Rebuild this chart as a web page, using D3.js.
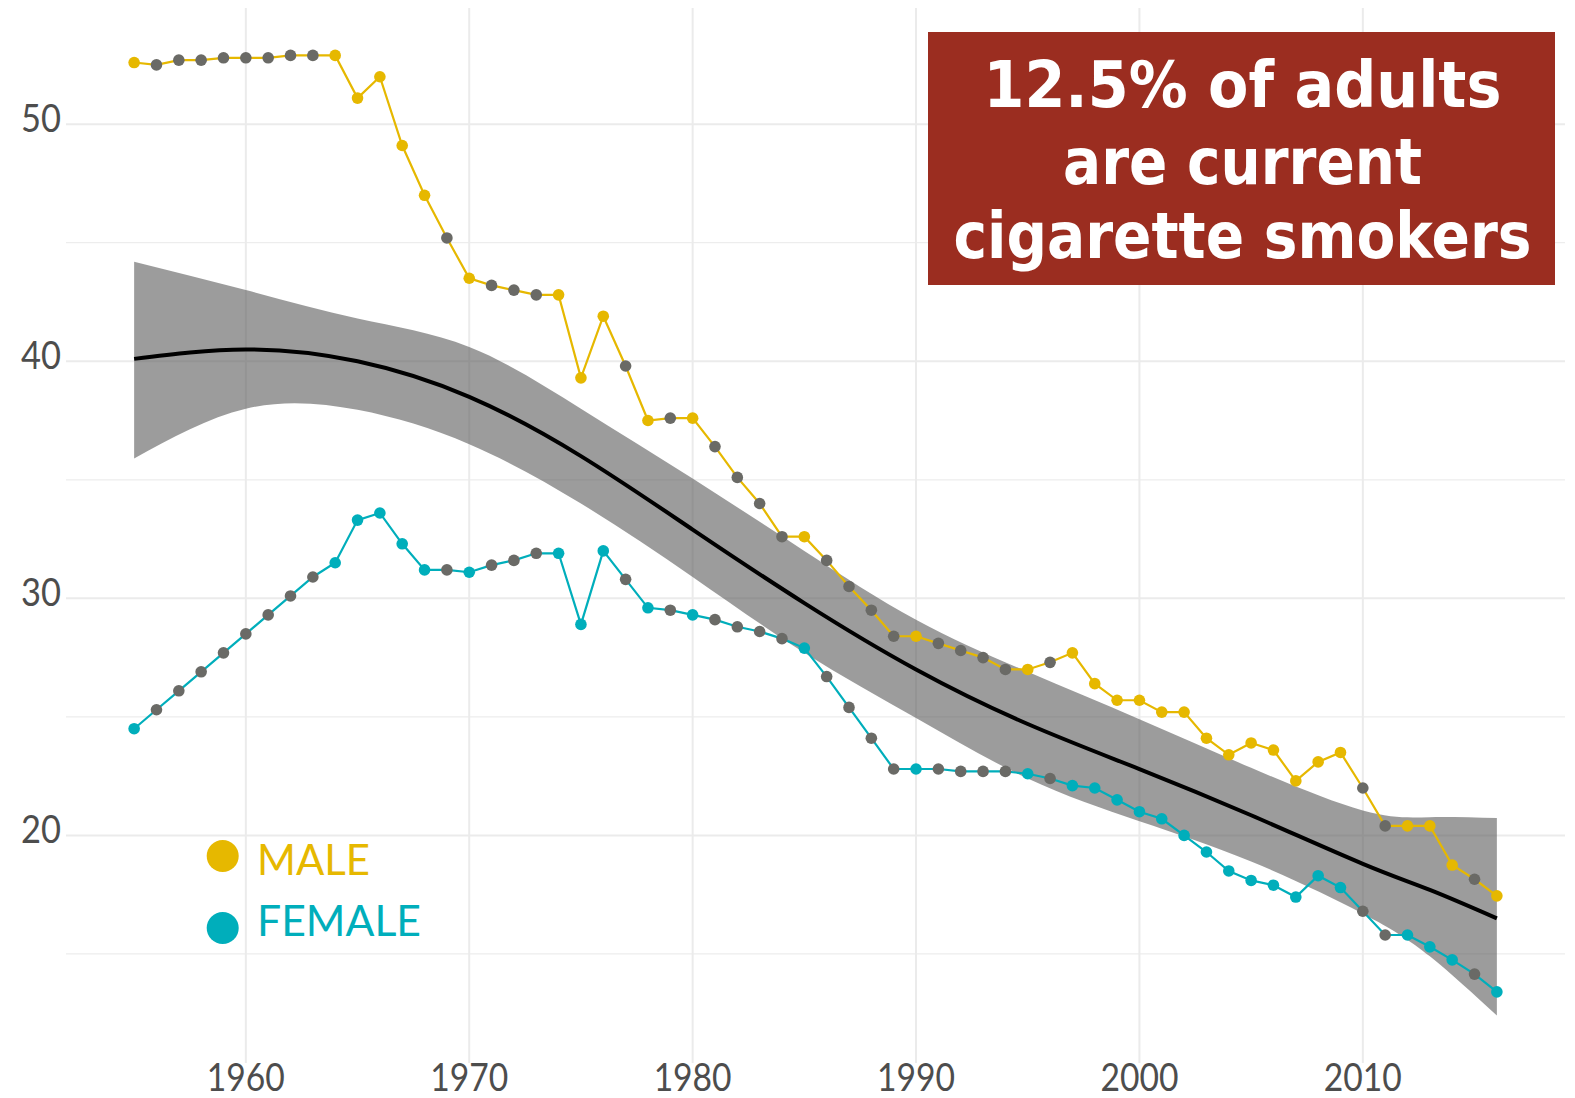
<!DOCTYPE html>
<html>
<head>
<meta charset="utf-8">
<script src="https://cdn.jsdelivr.net/npm/d3@7"></script>
<style>
  html, body { margin: 0; padding: 0; background: #fff; }
  svg { display: block; }
</style>
</head>
<body>
<div id="chart"></div>
<script>
// smoking prevalence by sex, 1955-2016
const years = d3.range(1955, 2017);

const male = [52.6, 52.5, 52.7, 52.7, 52.8, 52.8, 52.8, 52.9, 52.9, 52.9,
  51.1, 52.0, 49.1, 47.0, 45.2, 43.5, 43.2, 43.0, 42.8, 42.8,
  39.3, 41.9, 39.8, 37.5, 37.6, 37.6, 36.4, 35.1, 34.0, 32.6,
  32.6, 31.6, 30.5, 29.5, 28.4, 28.4, 28.1, 27.8, 27.5, 27.0,
  27.0, 27.3, 27.7, 26.4, 25.7, 25.7, 25.2, 25.2, 24.1, 23.4,
  23.9, 23.6, 22.3, 23.1, 23.5, 22.0, 20.4, 20.4, 20.4, 18.75,
  18.15, 17.45];

const female = [24.5, 25.3, 26.1, 26.9, 27.7, 28.5, 29.3, 30.1, 30.9, 31.5,
  33.3, 33.6, 32.3, 31.2, 31.2, 31.1, 31.4, 31.6, 31.9, 31.9,
  28.9, 32.0, 30.8, 29.6, 29.5, 29.3, 29.1, 28.8, 28.6, 28.3,
  27.9, 26.7, 25.4, 24.1, 22.8, 22.8, 22.8, 22.7, 22.7, 22.7,
  22.6, 22.4, 22.1, 22.0, 21.5, 21.0, 20.7, 20.0, 19.3, 18.5,
  18.1, 17.9, 17.4, 18.3, 17.8, 16.8, 15.8, 15.8, 15.3, 14.75,
  14.15, 13.4];

// years with survey data (others drawn grey)
const surveyYears = [1955, 1964, 1965, 1966, 1967, 1968, 1970, 1974, 1975, 1976,
  1978, 1980, 1985, 1990, 1995, 1997, 1998, 1999, 2000, 2001, 2002, 2003,
  2004, 2005, 2006, 2007, 2008, 2009, 2012, 2013, 2014, 2016];

// smoothed trend with its confidence band
const fitYears  = [1955, 1960, 1965, 1970, 1975, 1980, 1985, 1990, 1995, 2000, 2005, 2010, 2013, 2016];
const fitValues = [40.1, 40.5, 40.0, 38.5, 36.0, 32.9, 29.8, 27.0, 24.7, 22.8, 20.85, 18.8, 17.7, 16.5];
const fitUpper  = [44.2, 43.0, 41.8, 40.6, 38.0, 35.05, 32.0, 29.1, 26.9, 24.9, 22.85, 21.05, 20.77, 20.73];
const fitLower  = [35.9, 38.0, 37.95, 36.5, 34.0, 30.9, 27.7, 24.95, 22.4, 20.6, 18.9, 16.7, 14.9, 12.4];

const xTicks = [1960, 1970, 1980, 1990, 2000, 2010];
const yTicks = [20, 30, 40, 50];
const yMinor = [15, 25, 35, 45];

const legendLabels = ["MALE", "FEMALE"];
const headline = ["12.5% of adults", "are current", "cigarette smokers"];

const colMale = "#E6B800", colFemale = "#00AEBB", colGrey = "#6a6a66";

let width = 1575, height = 1098;
let panel = {left: 66, right: 1565, top: 8, bottom: 1063};

let svg = d3.select("#chart").append("svg")
  .attr("width", width)
  .attr("height", height);

let x = d3.scaleLinear().domain([1951.95, 2019.05]).range([panel.left, panel.right]);
let y = d3.scaleLinear().domain([10.4, 54.9]).range([panel.bottom, panel.top]);

// grid
let grid = svg.append("g");
grid.selectAll(".ymin").data(yMinor).enter().append("line")
  .attr("x1", panel.left).attr("x2", panel.right)
  .attr("y1", d => y(d)).attr("y2", d => y(d))
  .style("stroke", "#ededed").style("stroke-width", 1.3);
grid.selectAll(".ymaj").data(yTicks).enter().append("line")
  .attr("x1", panel.left).attr("x2", panel.right)
  .attr("y1", d => y(d)).attr("y2", d => y(d))
  .style("stroke", "#ebebeb").style("stroke-width", 2);
grid.selectAll(".xmaj").data(xTicks).enter().append("line")
  .attr("x1", d => x(d)).attr("x2", d => x(d))
  .attr("y1", panel.top).attr("y2", panel.bottom)
  .style("stroke", "#ebebeb").style("stroke-width", 2);

// axis labels
svg.append("g").selectAll("text").data(yTicks).enter().append("text")
  .attr("x", 61).attr("y", d => y(d) + 8)
  .attr("text-anchor", "end")
  .attr("textLength", 40).attr("lengthAdjust", "spacingAndGlyphs")
  .style("font-family", "Lato, 'Open Sans', sans-serif")
  .style("font-size", "39px").style("fill", "#4d4d4d")
  .text(d => d);

svg.append("g").selectAll("text").data(xTicks).enter().append("text")
  .attr("x", d => x(d) - 39).attr("y", 1091)
  .attr("textLength", 78).attr("lengthAdjust", "spacingAndGlyphs")
  .style("font-family", "Lato, 'Open Sans', sans-serif")
  .style("font-size", "39px").style("fill", "#4d4d4d")
  .text(d => d);

// confidence band + fit
let band = fitYears.map((yr, i) => ({yr: yr, lo: fitLower[i], hi: fitUpper[i], v: fitValues[i]}));

svg.append("path").datum(band)
  .attr("d", d3.area().curve(d3.curveNatural)
    .x(d => x(d.yr)).y0(d => y(d.lo)).y1(d => y(d.hi)))
  .style("fill", "#5a5a5a").style("opacity", 0.6);

svg.append("path").datum(band)
  .attr("d", d3.line().curve(d3.curveNatural)
    .x(d => x(d.yr)).y(d => y(d.v)))
  .style("fill", "none").style("stroke", "#000").style("stroke-width", 4);

// series lines and points
let series = [
  {name: "male", vals: male, col: colMale},
  {name: "female", vals: female, col: colFemale}
];

series.forEach(s => {
  let pts = years.map((yr, i) => ({yr: yr, v: s.vals[i]}));
  svg.append("path").datum(pts)
    .attr("d", d3.line().x(d => x(d.yr)).y(d => y(d.v)))
    .style("fill", "none").style("stroke", s.col).style("stroke-width", 2.2);
  svg.append("g").selectAll("circle").data(pts).enter().append("circle")
    .attr("cx", d => x(d.yr)).attr("cy", d => y(d.v))
    .attr("r", 5.8)
    .style("fill", d => surveyYears.includes(d.yr) ? s.col : colGrey);
});

// legend
let legCols = [colMale, colFemale];
let legend = svg.append("g");
legend.selectAll("circle").data(legendLabels).enter().append("circle")
  .attr("cx", 222.7).attr("cy", (d, i) => 856 + i * 72)
  .attr("r", 16)
  .style("fill", (d, i) => legCols[i]);
legend.selectAll("text").data(legendLabels).enter().append("text")
  .attr("x", 257).attr("y", (d, i) => 875 + i * 61)
  .attr("textLength", (d, i) => i == 0 ? 113 : 164)
  .attr("lengthAdjust", "spacingAndGlyphs")
  .style("font-family", "Lato, 'Open Sans', sans-serif")
  .style("font-size", "43px")
  .style("fill", (d, i) => legCols[i])
  .text(d => d);

// headline box
let box = svg.append("g");
box.append("rect")
  .attr("x", 928).attr("y", 32).attr("width", 627).attr("height", 253)
  .style("fill", "#9B2D20");
let lineWidths = [518, 359, 578];
box.selectAll("text").data(headline).enter().append("text")
  .attr("x", 1242.5).attr("y", (d, i) => [107, 184, 258][i])
  .attr("text-anchor", "middle")
  .attr("textLength", (d, i) => lineWidths[i])
  .attr("lengthAdjust", "spacingAndGlyphs")
  .style("font-family", "'DejaVu Sans', Verdana, sans-serif")
  .style("font-weight", "bold")
  .style("font-size", "64px")
  .style("fill", "#fff")
  .text(d => d);
</script>
</body>
</html>
